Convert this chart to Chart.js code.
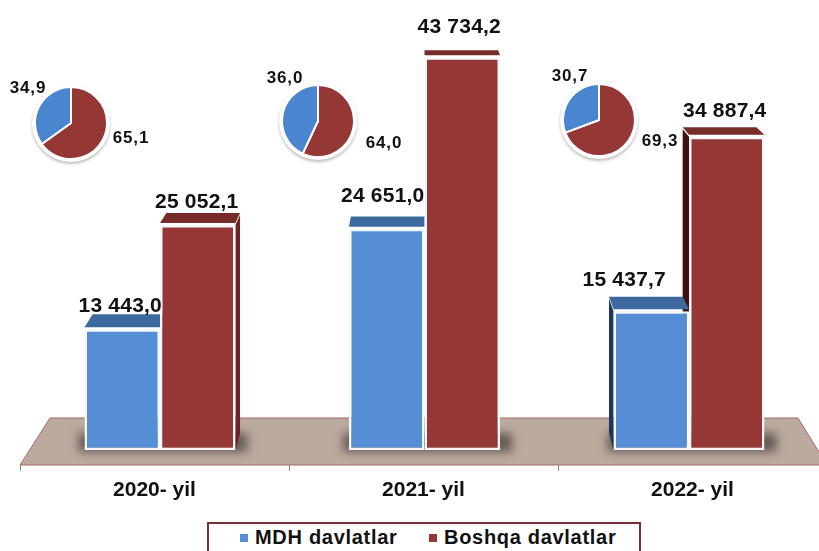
<!DOCTYPE html>
<html>
<head>
<meta charset="utf-8">
<title>MDH va boshqa davlatlar</title>
<script src="https://cdn.jsdelivr.net/npm/chart.js@4"></script>
<style>
    html, body { margin: 0; padding: 0; background: #fff; }
    #page { position: relative; width: 819px; height: 551px; overflow: hidden; background: #fff; }
    #main-wrap { position: absolute; left: 0; top: 0; width: 846px; height: 551px; }
    .pie-wrap { position: absolute; width: 100px; height: 100px; }
    #legend {
        position: absolute; left: 207px; top: 522px; width: 434px; height: 40px; box-sizing: border-box;
        border: 2px solid #7b3138; background: #fff; font: bold 20px "Liberation Sans", Arial, sans-serif;
        color: #111; letter-spacing: 0.7px;
    }
    #legend span { position: absolute; top: 1px; white-space: nowrap; line-height: 24px; }
    #legend i { position: absolute; top: 10px; width: 8px; height: 8px; }
</style>
</head>
<body>
<div id="page">
    <div id="main-wrap"><canvas id="main-chart" width="846" height="551"></canvas></div>
    <div class="pie-wrap" style="left:21px;top:73px"><canvas id="pie-0" width="100" height="100"></canvas></div>
    <div class="pie-wrap" style="left:268px;top:71px"><canvas id="pie-1" width="100" height="100"></canvas></div>
    <div class="pie-wrap" style="left:549px;top:70px"><canvas id="pie-2" width="100" height="100"></canvas></div>
    <div id="legend"></div>
</div>
<script>
const years = ['2020- yil', '2021- yil', '2022- yil'];
const seriesNames = ['MDH davlatlar', 'Boshqa davlatlar'];
const mdhValues = [13443.0, 24651.0, 15437.7];
const boshqaValues = [25052.1, 43734.2, 34887.4];

// printed next to the pies
const mdhShareLabels = ['34,9', '36,0', '30,7'];
const boshqaShareLabels = ['65,1', '64,0', '69,3'];
// slices as drawn in the picture (the 2021 pie is drawn about 43/57, not 36/64)
const mdhSlices = [34.9, 43.0, 30.7];
const boshqaSlices = [65.1, 57.0, 69.3];

const BLUE = '#558ed5';
const RED = '#953735';
const TEXT = '#111111';
const FONT = '"Liberation Sans", Arial, sans-serif';

// label placement, [dx, dy] from the top centre of each bar
const mdhLabelOffset = [[-2, -23], [-4, -32], [-27, -31]];
const boshqaLabelOffset = [[-1, -23], [-3, -30], [-2, -26]];
const pieLabelPos = [
    [[28, 88], [131, 138]],
    [[285, 78], [384, 143]],
    [[570, 76], [660, 141]]
];

function formatValue(v) {
    const parts = v.toFixed(1).split('.');
    return parts[0].replace(/\B(?=(\d{3})+$)/g, ' ') + ',' + parts[1];
}

// the picture is a 3D chart, bars lean towards one point
function backPoint(x, y) {
    return [x + (425 - x) * 0.024, y + (-110 - y) * 0.03];
}

function face(ctx, pts, color) {
    ctx.beginPath();
    pts.forEach((p, i) => i ? ctx.lineTo(p[0], p[1]) : ctx.moveTo(p[0], p[1]));
    ctx.closePath();
    ctx.fillStyle = color;
    ctx.fill();
}

const floorPlugin = {
    id: 'floor3d',
    afterDatasetsUpdate(chart) {
        // perspective shift of the bar groups
        chart.data.datasets.forEach((ds, d) => {
            chart.getDatasetMeta(d).data.forEach((bar, i) => {
                const tickX = chart.scales.x.getPixelForValue(i);
                bar.x += (483.3 - tickX) * 0.01673;
            });
        });
    },
    beforeDatasetsDraw(chart) {
        const { ctx, chartArea } = chart;
        const bottom = chartArea.bottom;
        const top = bottom - 47;
        ctx.save();
        // floor
        ctx.beginPath();
        ctx.moveTo(chartArea.left, bottom);
        ctx.lineTo(chartArea.left + 30, top);
        ctx.lineTo(chartArea.right - 29, top);
        ctx.lineTo(chartArea.right, bottom);
        ctx.closePath();
        ctx.fillStyle = '#bbaa9e';
        ctx.fill();
        ctx.strokeStyle = '#a8676a';
        ctx.lineWidth = 1;
        ctx.stroke();

        const blue = chart.getDatasetMeta(0).data;
        const red = chart.getDatasetMeta(1).data;

        // soft shadow under each group
        years.forEach((y, i) => {
            const l = blue[i].x - blue[i].width / 2;
            const r = red[i].x + red[i].width / 2;
            const b = blue[i].base;
            ctx.save();
            ctx.filter = 'blur(5px)';
            ctx.fillStyle = 'rgba(70,60,55,0.72)';
            ctx.fillRect(l - 6, b - 17, r - l + 18, 19);
            ctx.restore();
        });

        // side and top faces, red ones first so the blue tops sit in front of them
        [[red, '#772c2a', '#6b2523', '#3f1210'], [blue, '#3c6a9f', '#2a4a73', '#1f3560']].forEach(([bars, topCol, rightCol, leftCol]) => {
            bars.forEach(bar => {
                const l = bar.x - bar.width / 2, r = bar.x + bar.width / 2;
                const t = bar.y, b = bar.base;
                if (r < 425) {
                    face(ctx, [[r, t], backPoint(r, t), backPoint(r, b), [r, b]], rightCol);
                }
                if (l > 425) {
                    face(ctx, [[l, t], backPoint(l, t), backPoint(l, b), [l, b]], leftCol);
                }
                face(ctx, [[l, t - 2], backPoint(l, t - 2), backPoint(r, t - 2), [r, t - 2]], topCol);
            });
        });
        ctx.restore();
    },
    afterDraw(chart) {
        const { ctx } = chart;
        ctx.save();
        ctx.fillStyle = TEXT;
        ctx.textAlign = 'center';
        ctx.textBaseline = 'middle';
        ctx.font = 'bold 21px ' + FONT;
        ctx.letterSpacing = '0.2px';
        const offsets = [mdhLabelOffset, boshqaLabelOffset];
        chart.data.datasets.forEach((ds, d) => {
            chart.getDatasetMeta(d).data.forEach((bar, i) => {
                ctx.fillText(formatValue(ds.data[i]), bar.x + offsets[d][i][0], bar.y + offsets[d][i][1]);
            });
        });
        ctx.font = 'bold 17px ' + FONT;
        ctx.letterSpacing = '0.9px';
        pieLabelPos.forEach((pair, i) => {
            ctx.fillText(mdhShareLabels[i], pair[0][0], pair[0][1]);
            ctx.fillText(boshqaShareLabels[i], pair[1][0], pair[1][1]);
        });
        ctx.restore();
    }
};

new Chart(document.getElementById('main-chart'), {
    type: 'bar',
    data: {
        labels: years,
        datasets: [
            { label: seriesNames[0], data: mdhValues, backgroundColor: BLUE },
            { label: seriesNames[1], data: boshqaValues, backgroundColor: RED }
        ]
    },
    options: {
        responsive: false,
        animation: false,
        layout: { padding: { left: 20, right: 19, top: 0, bottom: 41 } },
        datasets: {
            bar: {
                categoryPercentage: 0.5613,
                barPercentage: 1,
                borderColor: '#f4f7fb',
                borderWidth: 2.5,
                borderSkipped: false
            }
        },
        plugins: { legend: { display: false }, tooltip: { enabled: false } },
        scales: {
            x: {
                afterFit(scale) { scale.height = 45; },
                border: { display: false },
                grid: { drawOnChartArea: false, tickLength: 6, color: '#8c8c8c' },
                ticks: {
                    color: TEXT,
                    padding: 7,
                    autoSkip: false,
                    maxRotation: 0,
                    font: { family: FONT, size: 21, weight: 'bold' }
                }
            },
            y: { display: false, min: -1670, max: 50112 }
        }
    },
    plugins: [floorPlugin]
});

// white rim with a grey edge round each pie
const rimPlugin = {
    id: 'pieRim',
    beforeDatasetsDraw(chart) {
        const arc = chart.getDatasetMeta(0).data[0];
        const { ctx } = chart;
        ctx.save();
        ctx.shadowColor = 'rgba(90,90,80,0.4)';
        ctx.shadowBlur = 3;
        ctx.shadowOffsetY = 2;
        ctx.fillStyle = '#ffffff';
        ctx.beginPath();
        ctx.arc(arc.x, arc.y, arc.outerRadius + 3, 0, Math.PI * 2);
        ctx.fill();
        ctx.restore();
    }
};

years.forEach((y, i) => {
    new Chart(document.getElementById('pie-' + i), {
        type: 'pie',
        data: {
            labels: [seriesNames[1], seriesNames[0]],
            datasets: [{
                data: [boshqaSlices[i], mdhSlices[i]],
                backgroundColor: [RED, '#4a86d0'],
                borderColor: '#ffffff',
                borderWidth: 2
            }]
        },
        options: {
            responsive: false,
            animation: false,
            layout: { padding: 13 },
            plugins: { legend: { display: false }, tooltip: { enabled: false } }
        },
        plugins: [rimPlugin]
    });
});

// legend box is cut off by the bottom edge, so it is plain html
const legendColors = [BLUE, RED];
const legendMarkX = [31, 220];
const legendTextX = [46, 235];
document.getElementById('legend').innerHTML = seriesNames.map((name, i) =>
    `<i style="left:${legendMarkX[i]}px;background:${legendColors[i]}"></i><span style="left:${legendTextX[i]}px">${name}</span>`
).join('');
</script>
</body>
</html>
